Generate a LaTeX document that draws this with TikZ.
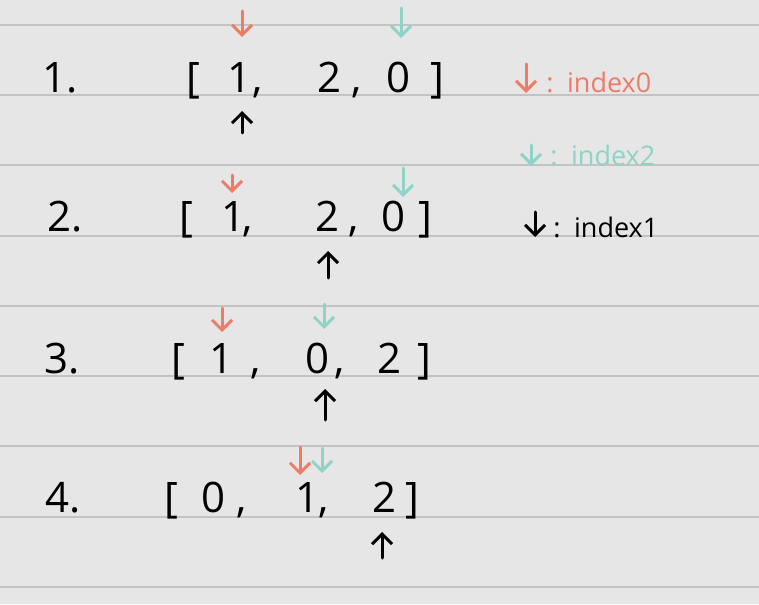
\documentclass[tikz,border=0pt]{standalone}
\usepackage{fontspec}
\setmainfont{Open Sans}
\usetikzlibrary{arrows.meta}
\definecolor{paper}{HTML}{E6E6E6}
\definecolor{ruleline}{HTML}{C3C3C3}
\definecolor{idxzero}{HTML}{EE7B67}
\definecolor{idxtwo}{HTML}{8ED3C6}
\newcommand{\cma}{,}
\newcommand{\lsq}{[}
\newcommand{\rsq}{]}

\begin{document}
\begin{tikzpicture}[
  x=0.5pt, y=-0.5pt,
  >={Straight Barb[length=5pt, width=10pt]},
  rule/.style={draw=ruleline, line width=1.1pt},
  elt/.style={inner sep=0pt, anchor=base, font=\fontsize{21}{25}\selectfont},
  leg/.style={inner sep=0pt, anchor=base west, font=\fontsize{13.5}{16}\selectfont},
  ptr/.style={->, line width=1.5pt, line cap=round},
  zeroptr/.style={ptr, idxzero},
  twoptr/.style={ptr, idxtwo},
  oneptr/.style={ptr, black},
]
  %% Paper and ruled lines
  \fill[paper] (0,0) rectangle (759,604);
  \useasboundingbox (0,0) rectangle (759,604);
  \foreach \y in {25,95,165,236,306,376,446,517,587}
    \draw[rule] (0,\y) -- (759,\y);

  %% Row 1
  \node[elt] (r1) at (60,93) {1.};
  \foreach \t/\x [count=\i] in {\lsq/193, 1/240, \cma/258, 2/330, \cma/357, 0/398, \rsq/437}
    \node[elt] (r1e\i) at (\x,93) {\t};

  %% Row 2
  \node[elt] (r2) at (65,231) {2.};
  \foreach \t/\x [count=\i] in {\lsq/186, 1/234, \cma/248, 2/328, \cma/354, 0/394, \rsq/425}
    \node[elt] (r2e\i) at (\x,231) {\t};

  %% Row 3
  \node[elt] (r3) at (62,373) {3.};
  \foreach \t/\x [count=\i] in {\lsq/178, 1/222, \cma/256, 0/318, \cma/340, 2/389, \rsq/424}
    \node[elt] (r3e\i) at (\x,373) {\t};

  %% Row 4
  \node[elt] (r4) at (63,512) {4.};
  \foreach \t/\x [count=\i] in {\lsq/171, 0/214, \cma/242, 1/308, \cma/324, 2/385, \rsq/412}
    \node[elt] (r4e\i) at (\x,512) {\t};

  %% index0 pointers (red, from above)
  \foreach \x/\a/\b in {242/11/37, 232/175/193, 222/308/332, 300/447/475}
    \draw[zeroptr] (\x,\a) -- (\x,\b);

  %% index2 pointers (teal, from above)
  \foreach \x/\a/\b in {401/8/38, 403/168/197, 324/304/329, 322/448/473}
    \draw[twoptr] (\x,\a) -- (\x,\b);

  %% index1 pointers (black, from below)
  \foreach \x/\a/\b in {242/133/111, 328/278/251, 325/420/389, 382/558/532}
    \draw[oneptr] (\x,\a) -- (\x,\b);

  %% Legend
  \draw[zeroptr] (526,64) -- (526,93);
  \node[leg, idxzero] (leg0) at (546,93) {:\enspace index0};
  \draw[twoptr] (531,145) -- (531,166);
  \node[leg, idxtwo] (leg2) at (550,166) {:\enspace index2};
  \draw[oneptr] (535,212) -- (535,237);
  \node[leg] (leg1) at (553,237) {:\enspace index1};
\end{tikzpicture}
\end{document}
